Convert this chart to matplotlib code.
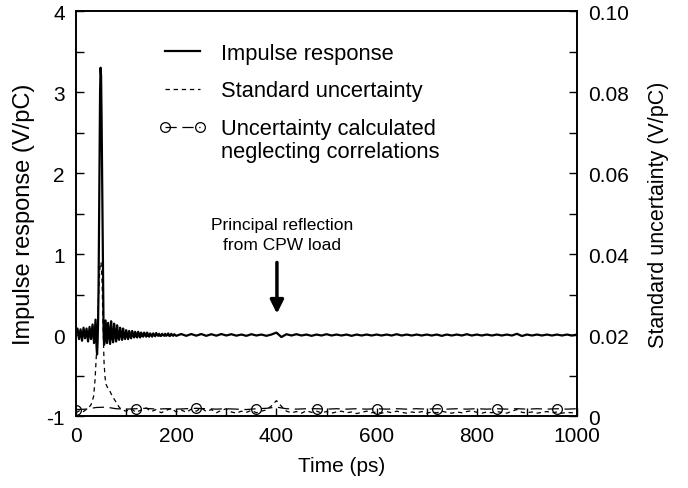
import numpy as np
import matplotlib
matplotlib.use('Agg')
import matplotlib.pyplot as plt

plt.rcParams['font.family'] = ['Liberation Sans', 'DejaVu Sans']
plt.rcParams['axes.unicode_minus'] = False

# impulse response (V/pC), time in ps
t_imp = [0, 3, 6, 9, 12, 15, 18, 21, 24, 27, 30, 33, 36, 39,
         41, 42, 43, 44, 45, 46, 47, 48, 49, 50, 51, 52, 53, 54, 55, 56, 57, 58, 59, 60,
         62, 64, 66, 68, 70, 72, 74, 76, 78, 80, 82, 84, 86, 88, 90, 92, 94, 96, 98, 100,
         102, 104, 106, 108, 110, 112, 114, 116, 118, 120, 122, 124, 126, 128, 130, 132, 134, 136, 138, 140,
         142, 144, 146, 148, 150, 152, 154, 156, 158, 160, 162, 164, 166, 168, 170, 172, 174, 176, 178, 180,
         182, 184, 186, 188, 190, 192, 194, 196, 198, 200,
         210, 220, 230, 240, 250, 260, 270, 280, 290, 300, 310, 320, 330, 340, 350, 360, 370, 380, 390, 400,
         410, 420, 430, 440, 450, 460, 470, 480, 490, 500, 510, 520, 530, 540, 550, 560, 570, 580, 590, 600,
         610, 620, 630, 640, 650, 660, 670, 680, 690, 700, 710, 720, 730, 740, 750, 760, 770, 780, 790, 800,
         810, 820, 830, 840, 850, 860, 870, 880, 890, 900, 910, 920, 930, 940, 950, 960, 970, 980, 990, 1000]
impulse = [0.02, 0.08, -0.05, 0.07, -0.07, 0.09, -0.04, 0.08, -0.08, 0.1, -0.05, 0.13, -0.1, 0.19,
           -0.15, -0.24, -0.1, 0.15, 0.6, 1.4, 2.3, 3.0, 3.3, 3.2, 2.7, 2.0, 1.2, 0.5, 0.05, -0.12, -0.08, 0.05, 0.18, 0.08,
           -0.1, 0.15, 0.02, -0.11, 0.17, -0.02, -0.09, 0.14, 0.0, -0.08, 0.12, -0.03, -0.06, 0.09, 0.01, -0.06, 0.08, -0.02, -0.05, 0.06,
           0.0, -0.05, 0.05, -0.01, -0.04, 0.05, 0.0, -0.03, 0.04, -0.01, -0.03, 0.04, 0.0, -0.03, 0.03, -0.01, -0.02, 0.03, 0.0, -0.02,
           0.03, -0.01, -0.02, 0.02, 0.0, -0.02, 0.02, 0.0, -0.015, 0.025, 0.0, -0.01, 0.015, -0.01, -0.01, 0.015, 0.0, -0.01, 0.015, -0.01,
           0.0, 0.02, -0.01, -0.01, 0.015, 0.0, -0.01, 0.01, 0.0, -0.01,
           0.012, -0.01, 0.012, -0.008, 0.012, -0.01, 0.01, -0.008, 0.012, -0.006, 0.01, -0.008, 0.006, -0.01, 0.01, -0.006, 0.006, -0.01, 0.006, 0.03,
           -0.025, 0.01, -0.006, 0.01, -0.006, 0.006, -0.01, 0.006, -0.006, 0.01, -0.006, 0.006, -0.006, 0.006, -0.01, 0.006, -0.006, 0.006, -0.006, 0.006,
           -0.006, 0.006, -0.006, 0.01, -0.006, 0.006, -0.006, 0.006, -0.006, 0.006, -0.006, 0.006, -0.01, 0.006, -0.006, 0.006, -0.006, 0.01, -0.006, 0.006,
           -0.006, 0.006, -0.006, 0.006, -0.006, 0.006, -0.006, 0.015, -0.012, 0.006, -0.006, 0.006, -0.006, 0.006, -0.006, 0.006, -0.006, 0.006, -0.006, 0.006]

# standard uncertainty (V/pC)
t_std = [0, 5, 10, 15, 20, 25, 30, 35, 38, 41, 44, 46, 48, 50, 52, 54, 56, 58, 60, 63, 66, 70, 74, 78, 82, 86, 90, 95,
         100, 110, 120, 130, 140, 150, 160, 170, 180, 190, 200, 210, 220, 230, 240, 250, 260, 270, 280, 290,
         300, 310, 320, 330, 340, 350, 360, 370, 380, 390, 400, 410, 420, 430, 440, 450, 460, 470, 480, 490,
         500, 510, 520, 530, 540, 550, 560, 570, 580, 590, 600, 610, 620, 630, 640, 650, 660, 670, 680, 690,
         700, 710, 720, 730, 740, 750, 760, 770, 780, 790, 800, 810, 820, 830, 840, 850, 860, 870, 880, 890,
         900, 910, 920, 930, 940, 950, 960, 970, 980, 990, 1000]
std_unc = [0.0008, 0.0012, 0.0015, 0.0011, 0.0016, 0.002, 0.0028, 0.0048, 0.009, 0.016, 0.026, 0.033, 0.037, 0.038,
           0.033, 0.022, 0.013, 0.0095, 0.0078, 0.007, 0.0066, 0.0055, 0.0046, 0.0038, 0.003, 0.0022, 0.0017, 0.0014,
           0.0012, 0.0018, 0.0009, 0.0015, 0.002, 0.0011, 0.0016, 0.0008, 0.0014, 0.0019, 0.001, 0.0015, 0.0009, 0.0017,
           0.0012, 0.002, 0.0011, 0.0016, 0.0008, 0.0014,
           0.0018, 0.001, 0.0007, 0.0012, 0.0009, 0.0014, 0.0008, 0.0012, 0.0015, 0.0025, 0.0038, 0.0024, 0.0012, 0.0008,
           0.0011, 0.0007, 0.0013, 0.0009, 0.0012, 0.0008,
           0.0011, 0.0007, 0.001, 0.0012, 0.0008, 0.001, 0.0006, 0.0009, 0.0012, 0.0008, 0.001, 0.0007, 0.0011, 0.0008,
           0.0012, 0.0009, 0.0007, 0.001, 0.0008, 0.0011,
           0.0007, 0.001, 0.0008, 0.0012, 0.0009, 0.0007, 0.001, 0.0008, 0.0011, 0.0013, 0.0009, 0.0007, 0.001, 0.0008,
           0.0011, 0.0009, 0.0007, 0.0012, 0.0016, 0.0009,
           0.0008, 0.001, 0.0007, 0.0009, 0.0011, 0.0008, 0.001, 0.0007, 0.0009, 0.0008, 0.001]

# uncertainty neglecting correlations (V/pC)
t_nc = [0, 20, 40, 60, 80, 100, 120, 140, 160, 180, 200, 220, 240, 260, 280, 300, 320, 340, 360, 380,
        400, 420, 440, 460, 480, 500, 520, 540, 560, 580, 600, 620, 640, 660, 680, 700, 720, 740, 760, 780,
        800, 820, 840, 860, 880, 900, 920, 940, 960, 980, 1000]
unc_nc = [0.0016, 0.0017, 0.0021, 0.0022, 0.0018, 0.0017, 0.0018, 0.0019, 0.0017, 0.0018,
          0.0017, 0.0018, 0.0019, 0.0018, 0.0017, 0.0018, 0.0017, 0.0016, 0.0018, 0.0019,
          0.0022, 0.0018, 0.0017, 0.0018, 0.0018, 0.0017, 0.0018, 0.0017, 0.0018, 0.0017,
          0.0018, 0.0017, 0.0018, 0.0017, 0.0018, 0.0017, 0.0018, 0.0017, 0.0018, 0.0017,
          0.0018, 0.0017, 0.0018, 0.0017, 0.0018, 0.0017, 0.0018, 0.0017, 0.0018, 0.0017, 0.0018]

fig = plt.figure(figsize=(6.88, 4.89), dpi=100)
ax = fig.add_axes([0.1105, 0.1472, 0.7282, 0.8282])
ax2 = ax.twinx()

l1, = ax.plot(t_imp, impulse, color='black', lw=1.6, solid_joinstyle='round')
l2, = ax2.plot(t_std, std_unc, color='black', lw=0.9, dashes=(3.5, 3))
l3, = ax2.plot(t_nc, unc_nc, color='black', lw=0.9, dashes=(9, 4.5),
               marker='o', markersize=7, markerfacecolor='none', markeredgewidth=0.9,
               markevery=6)

ax.set_xlim(0, 1000)
ax.set_ylim(-1, 4)
ax2.set_ylim(0, 0.1)
ax.set_xticks([0, 200, 400, 600, 800, 1000])
ax.set_xticks([100, 300, 500, 700, 900], minor=True)
ax.set_yticks([-1, 0, 1, 2, 3, 4])
ax.set_yticks([-0.5, 0.5, 1.5, 2.5, 3.5], minor=True)
ax2.set_yticks([0, 0.02, 0.04, 0.06, 0.08, 0.10])
ax2.set_yticklabels(['0', '0.02', '0.04', '0.06', '0.08', '0.10'])
ax2.set_yticks([0.01, 0.03, 0.05, 0.07, 0.09], minor=True)

for a in (ax, ax2):
    a.tick_params(which='both', direction='in', length=6, width=1, labelsize=15)
    for s in a.spines.values():
        s.set_linewidth(1.2)
ax.tick_params(axis='x', pad=7)
ax.tick_params(axis='y', pad=8)
ax2.tick_params(axis='y', pad=8)

ax.set_xlabel('Time (ps)', fontsize=15, labelpad=8, x=0.53)
ax.set_ylabel('Impulse response (V/pC)', fontsize=17, labelpad=8)
ax2.set_ylabel('Standard uncertainty (V/pC)', fontsize=15.5, labelpad=14)

# annotation
ax.annotate('', xy=(401, 0.23), xytext=(401, 0.93),
            arrowprops=dict(arrowstyle='-|>', lw=2.5, color='black', mutation_scale=20))
ax.text(412, 1.24, 'Principal reflection\nfrom CPW load', ha='center', va='center',
        fontsize=12.5, linespacing=1.35)

leg = ax2.legend([l1, l2, l3], ['Impulse response', 'Standard uncertainty', 'Uncertainty calculated'],
                 loc='upper left', bbox_to_anchor=(0.164, 0.922), frameon=False,
                 fontsize=15.75, handlelength=2.2, handletextpad=0.65, labelspacing=0.77,
                 borderpad=0, borderaxespad=0, numpoints=2)

fig.canvas.draw()
bb = leg.get_texts()[2].get_window_extent()
W, H = fig.get_size_inches() * fig.dpi
fig.text(bb.x0 / W, (bb.y0 - 23) / H, 'neglecting correlations', fontsize=15.75,
         ha='left', va='bottom')

fig.savefig('out.png', dpi=100)
